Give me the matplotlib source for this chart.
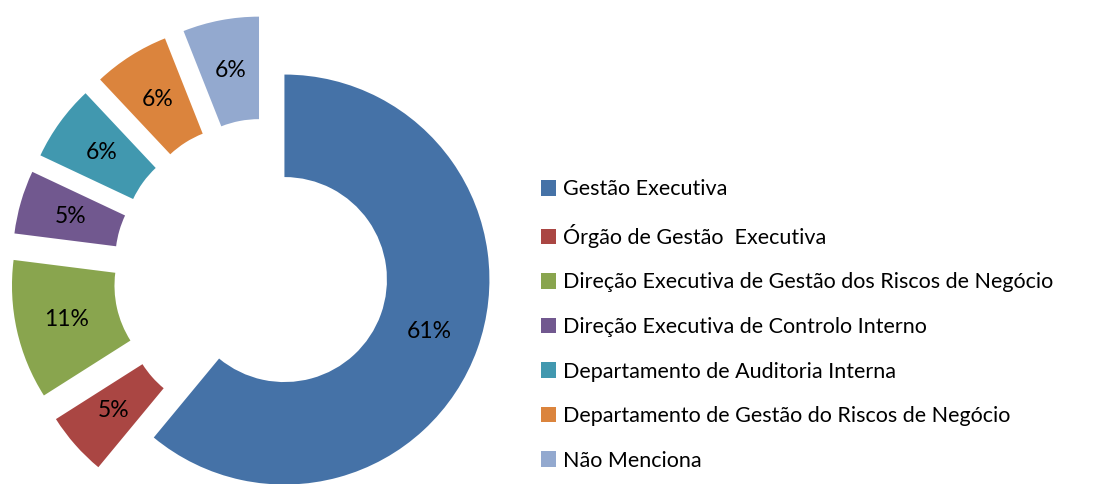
import matplotlib.pyplot as plt
import numpy as np

plt.rcParams['font.family'] = ['Lato', 'DejaVu Sans']

categorias = ["Gestão Executiva",
              "Órgão de Gestão  Executiva",
              "Direção Executiva de Gestão dos Riscos de Negócio",
              "Direção Executiva de Controlo Interno",
              "Departamento de Auditoria Interna",
              "Departamento de Gestão do Riscos de Negócio",
              "Não Menciona"]
valores = [61, 5, 11, 5, 6, 6, 6]
cores = ["#4572A7", "#AA4643", "#89A54E", "#71588F", "#4198AF", "#DB843D", "#93A9CF"]
afastamento = [0.08, 0.26, 0.26, 0.26, 0.26, 0.26, 0.26]

W, H = 1119, 484
R = 205.0          # raio exterior em px
cx, cy = 269, 274  # centro do anel em px (a partir do canto superior esquerdo)

fig = plt.figure(figsize=(W / 100, H / 100), dpi=100)
ax = fig.add_axes([0, 0, 1, 1])

wedges, texts = ax.pie(valores, colors=cores, startangle=90, counterclock=False,
                       explode=afastamento, radius=1,
                       wedgeprops=dict(width=0.5, linewidth=0))

# percentagens no meio do anel, acompanhando as fatias afastadas
total = sum(valores)
ang = 90.0
for v, e in zip(valores, afastamento):
    mid = np.deg2rad(ang - v / total * 180.0)
    rr = 0.75 + e
    ax.text(rr * np.cos(mid), rr * np.sin(mid), f"{v}%", ha="center", va="center",
            fontsize=16.5, color="black")
    ang -= v / total * 360.0

ax.set_xlim(-cx / R, (W - cx) / R)
ax.set_ylim(-(H - cy) / R, cy / R)
ax.set_aspect("equal")
ax.axis("off")

fig.legend(wedges, categorias, loc="center left", bbox_to_anchor=(530 / W, 1 - 325 / H),
           frameon=False, fontsize=15.5, handlelength=0.72, handleheight=0.72,
           handletextpad=0.3, labelspacing=1.14, borderpad=0)

fig.savefig("out.png", dpi=100)
